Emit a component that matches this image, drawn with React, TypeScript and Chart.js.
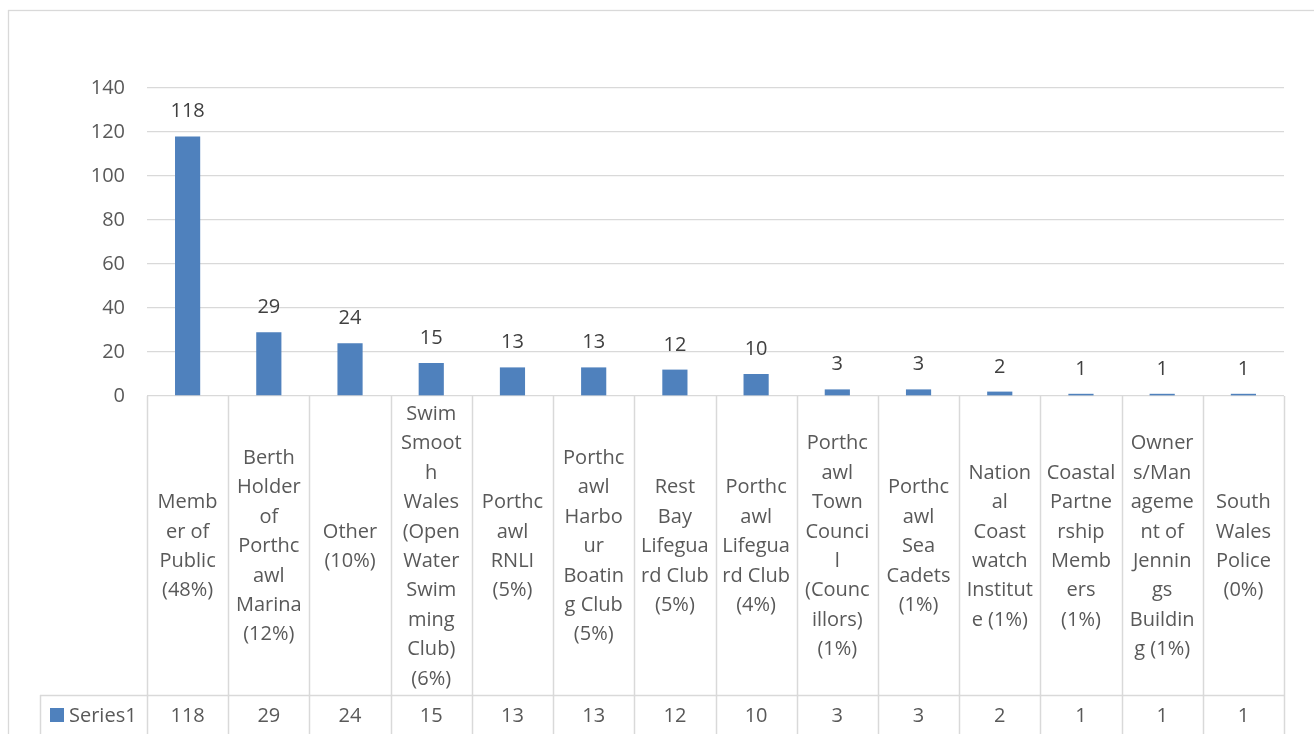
import React, { useEffect, useRef } from "react";
import { Chart, registerables } from "chart.js";

Chart.register(...registerables);

const categoryLines: string[][] = [
  ["Memb", "er of", "Public", "(48%)"],
  ["Berth", "Holder", "of", "Porthc", "awl", "Marina", "(12%)"],
  ["Other", "(10%)"],
  ["Swim", "Smoot", "h", "Wales", "(Open", "Water", "Swim", "ming", "Club)", "(6%)"],
  ["Porthc", "awl", "RNLI", "(5%)"],
  ["Porthc", "awl", "Harbo", "ur", "Boatin", "g Club", "(5%)"],
  ["Rest", "Bay", "Lifegua", "rd Club", "(5%)"],
  ["Porthc", "awl", "Lifegua", "rd Club", "(4%)"],
  ["Porthc", "awl", "Town", "Counci", "l", "(Counc", "illors)", "(1%)"],
  ["Porthc", "awl", "Sea", "Cadets", "(1%)"],
  ["Nation", "al", "Coast", "watch", "Institut", "e (1%)"],
  ["Coastal", "Partne", "rship", "Memb", "ers", "(1%)"],
  ["Owner", "s/Man", "ageme", "nt of", "Jennin", "gs", "Buildin", "g (1%)"],
  ["South", "Wales", "Police", "(0%)"],
];
const seriesName = "Series1";
const seriesValues: number[] = [118, 29, 24, 15, 13, 13, 12, 10, 3, 3, 2, 1, 1, 1];
const yTicks: number[] = [0, 20, 40, 60, 80, 100, 120, 140];

const FONT = "'Open Sans', Lato, sans-serif";
const FS = 20;
const BAR = "#4F81BD";
const GRID = "#d9d9d9";

const tablePlugin = {
  id: "tablePlugin",
  afterDraw(chart: any) {
    const ctx = chart.ctx;
    const x = chart.scales.x;
    const area = chart.chartArea;
    const W = chart.width;
    const H = chart.height;
    ctx.save();
    // outer frame
    ctx.strokeStyle = GRID;
    ctx.lineWidth = 1.3;
    ctx.strokeRect(8.5, 10.5, W + 20, H + 20);

    // data labels
    const meta = chart.getDatasetMeta(0);
    ctx.fillStyle = "#404040";
    ctx.font = `${FS}px ${FONT}`;
    ctx.textAlign = "center";
    ctx.textBaseline = "alphabetic";
    meta.data.forEach((bar: any, i: number) => {
      ctx.fillText(String(seriesValues[i]), bar.x, bar.y - 19);
    });

    // table grid
    const tableTop = area.bottom;
    const rowY = 695;
    const n = categoryLines.length;
    const half = (x.getPixelForValue(1) - x.getPixelForValue(0)) / 2;
    ctx.strokeStyle = GRID;
    ctx.lineWidth = 1.5;
    ctx.beginPath();
    for (let i = 0; i <= n; i++) {
      const px = i < n ? x.getPixelForValue(i) - half : x.getPixelForValue(n - 1) + half;
      ctx.moveTo(Math.round(px) + 0.5, tableTop);
      ctx.lineTo(Math.round(px) + 0.5, H);
    }
    ctx.moveTo(40, rowY + 0.5);
    ctx.lineTo(area.right, rowY + 0.5);
    ctx.moveTo(40.5, rowY);
    ctx.lineTo(40.5, H);
    ctx.stroke();

    // category text
    ctx.fillStyle = "#595959";
    ctx.font = `${FS}px ${FONT}`;
    ctx.textAlign = "center";
    ctx.textBaseline = "middle";
    const lh = 29.4;
    const mid = (tableTop + rowY) / 2 + 1;
    categoryLines.forEach((lines, i) => {
      const cx = x.getPixelForValue(i);
      const start = mid - ((lines.length - 1) * lh) / 2;
      lines.forEach((ln, j) => ctx.fillText(ln, cx, start + j * lh));
      ctx.fillText(String(seriesValues[i]), cx, 716);
    });

    // legend key
    ctx.fillStyle = BAR;
    ctx.fillRect(50, 708, 14, 14);
    ctx.fillStyle = "#595959";
    ctx.textAlign = "left";
    ctx.fillText(seriesName, 69, 716);
    ctx.restore();
  },
};

export default function App() {
  const ref = useRef<HTMLCanvasElement>(null);
  useEffect(() => {
    document.body.style.margin = "0";
    const chart = new Chart(ref.current!, {
      type: "bar",
      data: {
        labels: categoryLines.map((l) => l.join(" ")),
        datasets: [
          {
            label: seriesName,
            data: seriesValues,
            backgroundColor: BAR,
            barPercentage: 0.31,
            categoryPercentage: 1,
          },
        ],
      },
      options: {
        responsive: false,
        animation: false,
        devicePixelRatio: 1,
        layout: { padding: { left: 0, top: 88, right: 30, bottom: 734 - 396 } },
        plugins: { legend: { display: false }, tooltip: { enabled: false } },
        scales: {
          x: { display: false },
          y: {
            min: 0,
            max: 140,
            afterFit: (s: any) => {
              s.width = 147;
            },
            afterBuildTicks: (s: any) => {
              s.ticks = yTicks.map((v) => ({ value: v }));
            },
            border: { display: false },
            grid: { color: GRID, lineWidth: 1.3, drawTicks: false },
            ticks: {
              padding: 22,
              color: "#595959",
              font: { family: FONT, size: FS },
            },
          },
        },
      },
      plugins: [tablePlugin],
    });
    return () => chart.destroy();
  }, []);
  return <canvas ref={ref} width={1314} height={734} style={{ display: "block" }} />;
}
